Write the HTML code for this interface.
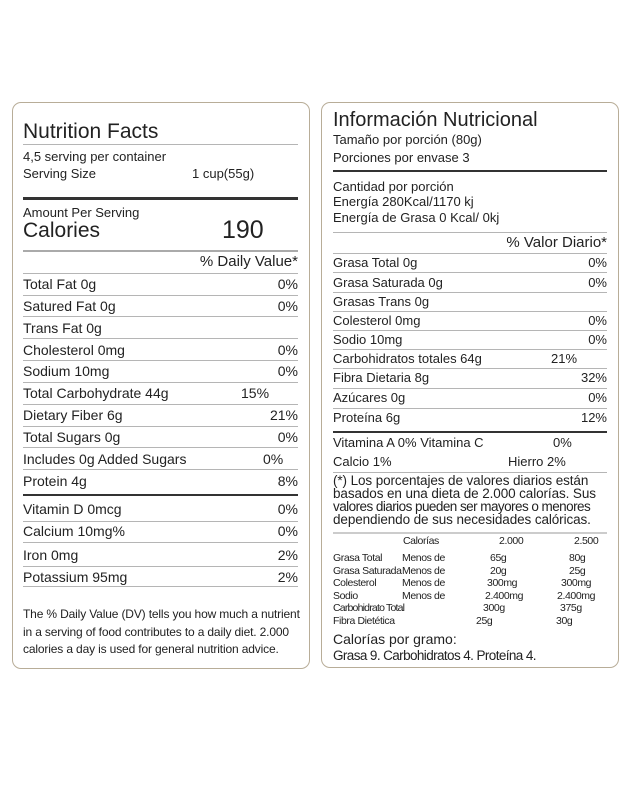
<!DOCTYPE html>
<html><head><meta charset="utf-8"><style>
body{margin:0;width:635px;height:810px;background:#fff;position:relative;overflow:hidden;font-family:"Liberation Sans",sans-serif;color:#222}
.box{position:absolute;border:1.5px solid #b8ad98;border-radius:9px}
.t{position:absolute;white-space:nowrap;line-height:20px;height:20px}
.L{left:23px}.LR{right:337px;text-align:right}
.R{left:333px}.RR{right:28px;text-align:right}
.ln{position:absolute;height:1px;background:#b5b5b5}
.a{left:23px;width:275px}.b{left:333px;width:274px}
.k{background:#333}
.s{font-size:10.5px;line-height:13px;height:13px;letter-spacing:-0.4px}
</style></head><body>
<div class="box" style="left:12px;top:102px;width:296px;height:565px"></div>
<div class="box" style="left:321px;top:102px;width:296px;height:564px"></div>

<!-- LEFT -->
<div class="t L" style="top:120px;font-size:21px;line-height:24px">Nutrition Facts</div>
<div class="ln a" style="top:144px"></div>
<div class="t L" style="top:147px;font-size:13px">4,5 serving per container</div>
<div class="t L" style="top:164px;font-size:13px">Serving Size</div>
<div class="t" style="left:192px;top:164px;font-size:13px">1 cup(55g)</div>
<div class="ln a k" style="top:197px;height:3px"></div>
<div class="t L" style="top:203px;font-size:13px">Amount Per Serving</div>
<div class="t L" style="top:218px;font-size:21px;line-height:26px">Calories</div>
<div class="t" style="left:222px;top:215px;font-size:25px;line-height:30px">190</div>
<div class="ln a" style="top:250px;height:2px;background:#aaa"></div>
<div class="t LR" style="top:252px;font-size:15px">% Daily Value*</div>
<div class="ln a" style="top:273px"></div>
<div class="t L" style="top:274px;font-size:14px">Total Fat 0g</div><div class="t LR" style="top:274px;font-size:14px">0%</div>
<div class="ln a" style="top:295px"></div>
<div class="t L" style="top:296px;font-size:14px">Satured Fat 0g</div><div class="t LR" style="top:296px;font-size:14px">0%</div>
<div class="ln a" style="top:316px"></div>
<div class="t L" style="top:318px;font-size:14px">Trans Fat 0g</div>
<div class="ln a" style="top:338px"></div>
<div class="t L" style="top:340px;font-size:14px">Cholesterol 0mg</div><div class="t LR" style="top:340px;font-size:14px">0%</div>
<div class="ln a" style="top:360px"></div>
<div class="t L" style="top:361px;font-size:14px">Sodium 10mg</div><div class="t LR" style="top:361px;font-size:14px">0%</div>
<div class="ln a" style="top:382px"></div>
<div class="t L" style="top:383px;font-size:14px">Total Carbohydrate 44g</div><div class="t" style="left:241px;top:383px;font-size:14px">15%</div>
<div class="ln a" style="top:404px"></div>
<div class="t L" style="top:405px;font-size:14px">Dietary Fiber 6g</div><div class="t LR" style="top:405px;font-size:14px">21%</div>
<div class="ln a" style="top:426px"></div>
<div class="t L" style="top:427px;font-size:14px">Total Sugars 0g</div><div class="t LR" style="top:427px;font-size:14px">0%</div>
<div class="ln a" style="top:447px"></div>
<div class="t L" style="top:449px;font-size:14px">Includes 0g Added Sugars</div><div class="t" style="left:263px;top:449px;font-size:14px">0%</div>
<div class="ln a" style="top:469px"></div>
<div class="t L" style="top:471px;font-size:14px">Protein 4g</div><div class="t LR" style="top:471px;font-size:14px">8%</div>
<div class="ln a k" style="top:494px;height:2px"></div>
<div class="t L" style="top:499px;font-size:14px">Vitamin D 0mcg</div><div class="t LR" style="top:499px;font-size:14px">0%</div>
<div class="ln a" style="top:521px"></div>
<div class="t L" style="top:521px;font-size:14px">Calcium 10mg%</div><div class="t LR" style="top:521px;font-size:14px">0%</div>
<div class="ln a" style="top:542px"></div>
<div class="t L" style="top:545px;font-size:14px">Iron 0mg</div><div class="t LR" style="top:545px;font-size:14px">2%</div>
<div class="ln a" style="top:566px"></div>
<div class="t L" style="top:567px;font-size:14px">Potassium 95mg</div><div class="t LR" style="top:567px;font-size:14px">2%</div>
<div class="ln a" style="top:586px"></div>
<div class="t L" style="top:604px;font-size:12px;letter-spacing:-0.15px">The % Daily Value (DV) tells you how much a nutrient</div>
<div class="t L" style="top:622px;font-size:12px;letter-spacing:-0.15px">in a serving of food contributes to a daily diet. 2.000</div>
<div class="t L" style="top:639px;font-size:12px;letter-spacing:-0.15px">calories a day is used for general nutrition advice.</div>

<!-- RIGHT -->
<div class="t R" style="top:107px;font-size:20px;line-height:26px">Información Nutricional</div>
<div class="t R" style="top:130px;font-size:13px">Tamaño por porción (80g)</div>
<div class="t R" style="top:148px;font-size:13px">Porciones por envase 3</div>
<div class="ln b k" style="top:170px;height:2px"></div>
<div class="t R" style="top:177px;font-size:13px">Cantidad por porción</div>
<div class="t R" style="top:194px;font-size:13px;line-height:16px">Energía 280Kcal/1170 kj</div>
<div class="t R" style="top:210px;font-size:13px;line-height:16px">Energía de Grasa 0 Kcal/ 0kj</div>
<div class="ln b" style="top:232px"></div>
<div class="t RR" style="top:233px;font-size:15px">% Valor Diario*</div>
<div class="ln b" style="top:253px"></div>
<div class="t R" style="top:253px;font-size:13px">Grasa Total 0g</div><div class="t RR" style="top:253px;font-size:13px">0%</div>
<div class="ln b" style="top:272px"></div>
<div class="t R" style="top:273px;font-size:13px">Grasa Saturada 0g</div><div class="t RR" style="top:273px;font-size:13px">0%</div>
<div class="ln b" style="top:292px"></div>
<div class="t R" style="top:292px;font-size:13px">Grasas Trans 0g</div>
<div class="ln b" style="top:311px"></div>
<div class="t R" style="top:311px;font-size:13px">Colesterol 0mg</div><div class="t RR" style="top:311px;font-size:13px">0%</div>
<div class="ln b" style="top:330px"></div>
<div class="t R" style="top:330px;font-size:13px">Sodio 10mg</div><div class="t RR" style="top:330px;font-size:13px">0%</div>
<div class="ln b" style="top:349px"></div>
<div class="t R" style="top:349px;font-size:13px">Carbohidratos totales 64g</div><div class="t" style="left:551px;top:349px;font-size:13px">21%</div>
<div class="ln b" style="top:368px"></div>
<div class="t R" style="top:368px;font-size:13px">Fibra Dietaria 8g</div><div class="t RR" style="top:368px;font-size:13px">32%</div>
<div class="ln b" style="top:388px"></div>
<div class="t R" style="top:388px;font-size:13px">Azúcares 0g</div><div class="t RR" style="top:388px;font-size:13px">0%</div>
<div class="ln b" style="top:408px"></div>
<div class="t R" style="top:408px;font-size:13px">Proteína 6g</div><div class="t RR" style="top:408px;font-size:13px">12%</div>
<div class="ln b k" style="top:431px;height:2px"></div>
<div class="t R" style="top:433px;font-size:13px">Vitamina A 0% Vitamina C</div><div class="t" style="left:553px;top:433px;font-size:13px">0%</div>
<div class="t R" style="top:452px;font-size:13px">Calcio 1%</div><div class="t" style="left:508px;top:452px;font-size:13px">Hierro 2%</div>
<div class="ln b" style="top:472px"></div>
<div class="t R" style="top:474px;font-size:13.5px;line-height:13px;letter-spacing:-0.1px">(*) Los porcentajes de valores diarios están</div>
<div class="t R" style="top:487px;font-size:13.5px;line-height:13px;letter-spacing:-0.1px">basados en una dieta de 2.000 calorías. Sus</div>
<div class="t R" style="top:500px;font-size:13.5px;line-height:13px;letter-spacing:-0.55px">valores diarios pueden ser mayores o menores</div>
<div class="t R" style="top:513px;font-size:13.5px;line-height:13px;letter-spacing:-0.1px">dependiendo de sus necesidades calóricas.</div>
<div class="ln b" style="top:532px;height:2px;background:#ccc"></div>
<div class="t s" style="left:403px;top:535px">Calorías</div><div class="t s" style="left:499px;top:535px">2.000</div><div class="t s" style="left:574px;top:535px">2.500</div>
<div class="t s R" style="top:552px">Grasa Total</div><div class="t s" style="left:402px;top:552px">Menos de</div><div class="t s" style="left:490px;top:552px">65g</div><div class="t s" style="left:569px;top:552px">80g</div>
<div class="t s R" style="top:565px">Grasa Saturada</div><div class="t s" style="left:402px;top:565px">Menos de</div><div class="t s" style="left:490px;top:565px">20g</div><div class="t s" style="left:569px;top:565px">25g</div>
<div class="t s R" style="top:577px">Colesterol</div><div class="t s" style="left:402px;top:577px">Menos de</div><div class="t s" style="left:487px;top:577px">300mg</div><div class="t s" style="left:561px;top:577px">300mg</div>
<div class="t s R" style="top:590px">Sodio</div><div class="t s" style="left:402px;top:590px">Menos de</div><div class="t s" style="left:485px;top:590px">2.400mg</div><div class="t s" style="left:557px;top:590px">2.400mg</div>
<div class="t s R" style="top:602px;letter-spacing:-0.8px">Carbohidrato Total</div><div class="t s" style="left:483px;top:602px">300g</div><div class="t s" style="left:560px;top:602px">375g</div>
<div class="t s R" style="top:615px">Fibra Dietética</div><div class="t s" style="left:476px;top:615px">25g</div><div class="t s" style="left:556px;top:615px">30g</div>
<div class="t R" style="top:631px;font-size:14px;line-height:17px">Calorías por gramo:</div>
<div class="t R" style="top:647px;font-size:13.5px;line-height:17px;letter-spacing:-0.6px">Grasa 9. Carbohidratos 4. Proteína 4.</div>
</body></html>
